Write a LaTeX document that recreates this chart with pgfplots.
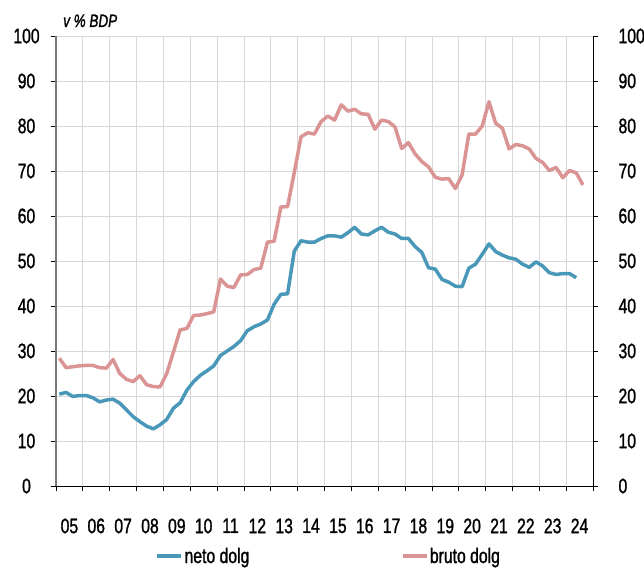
\documentclass[border=0pt]{standalone}
\usepackage{fontspec}
\setmainfont[FakeStretch=0.75, FakeBold=1.2]{Liberation Sans}
\usepackage{pgfplots}
\pgfplotsset{compat=1.18}
\definecolor{neto}{RGB}{74,152,185}
\definecolor{bruto}{RGB}{218,148,148}
\definecolor{gridc}{RGB}{215,215,215}
\definecolor{laxis}{RGB}{120,120,120}
\begin{document}
\begin{tikzpicture}
\useasboundingbox (-56bp,-85bp) rectangle (588bp,486bp);
\begin{axis}[name=ax, at={(0,0)}, anchor=south west, scale only axis,
 width=537bp, height=450bp,
 xmin=2005, xmax=2025, ymin=0, ymax=100,
 clip mode=individual,
 axis x line*=bottom, axis y line*=left,
 x axis line style={black, line width=0.8bp},
 y axis line style={laxis, line width=1.2bp},
 xtick={2005,2006,...,2025}, xticklabels={},
 extra x ticks={2005.5,2006.5,...,2024.5},
 extra x tick labels={05,06,07,08,09,10,11,12,13,14,15,16,17,18,19,20,21,22,23,24},
 extra x tick style={major tick length=0pt, grid=none, tick label style={yshift=-29bp}},
 ytick={0,10,...,100},
 yticklabel style={anchor=center, xshift=-24.5bp},
 tick align=outside, major tick length=5bp,
 grid=major, grid style={gridc, line width=0.8bp},
 tick style={black, line width=0.8bp},
 tick label style={font=\fontsize{21bp}{24bp}\selectfont},
 /pgf/number format/assume math mode=true,
 legend columns=2,
 legend style={draw=none, fill=none, at={(0.5,-0.128)}, anchor=north, xshift=4bp,
   font=\fontsize{21bp}{24bp}\selectfont,
   nodes={inner xsep=1.5bp},
   /tikz/every even column/.append style={column sep=150bp}},
 legend image code/.code={\draw[#1, line width=3.5bp] (0,0) -- (24bp,0);},
]
\addplot[neto, line width=3.5bp, line join=round] coordinates {
(2005.125,20.4)(2005.375,20.8)(2005.625,19.9)(2005.875,20.1)
(2006.125,20.1)(2006.375,19.6)(2006.625,18.7)(2006.875,19.1)
(2007.125,19.3)(2007.375,18.4)(2007.625,16.9)(2007.875,15.4)
(2008.125,14.3)(2008.375,13.3)(2008.625,12.7)(2008.875,13.6)
(2009.125,14.8)(2009.375,17.3)(2009.625,18.5)(2009.875,21.3)
(2010.125,23.2)(2010.375,24.6)(2010.625,25.6)(2010.875,26.7)
(2011.125,29.0)(2011.375,30.0)(2011.625,31.0)(2011.875,32.3)
(2012.125,34.5)(2012.375,35.4)(2012.625,36.0)(2012.875,36.9)
(2013.125,40.4)(2013.375,42.6)(2013.625,42.7)(2013.875,52.2)
(2014.125,54.5)(2014.375,54.2)(2014.625,54.2)(2014.875,55.0)
(2015.125,55.6)(2015.375,55.6)(2015.625,55.3)(2015.875,56.3)
(2016.125,57.5)(2016.375,56.0)(2016.625,55.8)(2016.875,56.7)
(2017.125,57.5)(2017.375,56.4)(2017.625,56.0)(2017.875,55.0)
(2018.125,55.0)(2018.375,53.2)(2018.625,51.9)(2018.875,48.5)
(2019.125,48.2)(2019.375,45.9)(2019.625,45.3)(2019.875,44.4)
(2020.125,44.3)(2020.375,48.4)(2020.625,49.3)(2020.875,51.5)
(2021.125,53.8)(2021.375,52.1)(2021.625,51.3)(2021.875,50.7)
(2022.125,50.4)(2022.375,49.3)(2022.625,48.6)(2022.875,49.8)
(2023.125,48.9)(2023.375,47.4)(2023.625,47.0)(2023.875,47.2)
(2024.125,47.2)(2024.375,46.3)
};
\addlegendentry{neto dolg}
\addplot[bruto, line width=3.5bp, line join=round] coordinates {
(2005.125,28.4)(2005.375,26.3)(2005.625,26.5)(2005.875,26.7)
(2006.125,26.8)(2006.375,26.8)(2006.625,26.3)(2006.875,26.2)
(2007.125,28.1)(2007.375,25.0)(2007.625,23.7)(2007.875,23.2)
(2008.125,24.5)(2008.375,22.5)(2008.625,22.1)(2008.875,22.0)
(2009.125,25.0)(2009.375,29.8)(2009.625,34.7)(2009.875,35.0)
(2010.125,37.9)(2010.375,38.0)(2010.625,38.3)(2010.875,38.7)
(2011.125,46.0)(2011.375,44.4)(2011.625,44.1)(2011.875,46.9)
(2012.125,47.0)(2012.375,48.1)(2012.625,48.4)(2012.875,54.2)
(2013.125,54.4)(2013.375,62.0)(2013.625,62.1)(2013.875,69.7)
(2014.125,77.6)(2014.375,78.5)(2014.625,78.2)(2014.875,81.0)
(2015.125,82.2)(2015.375,81.3)(2015.625,84.7)(2015.875,83.3)
(2016.125,83.7)(2016.375,82.7)(2016.625,82.6)(2016.875,79.3)
(2017.125,81.3)(2017.375,81.0)(2017.625,79.8)(2017.875,75.0)
(2018.125,76.3)(2018.375,73.8)(2018.625,72.1)(2018.875,70.9)
(2019.125,68.6)(2019.375,68.2)(2019.625,68.3)(2019.875,66.1)
(2020.125,69.1)(2020.375,78.2)(2020.625,78.2)(2020.875,80.0)
(2021.125,85.4)(2021.375,80.6)(2021.625,79.5)(2021.875,74.9)
(2022.125,75.9)(2022.375,75.6)(2022.625,74.9)(2022.875,72.8)
(2023.125,71.9)(2023.375,70.1)(2023.625,70.8)(2023.875,68.5)
(2024.125,70.1)(2024.375,69.6)(2024.625,66.9)
};
\addlegendentry{bruto dolg}
\node[anchor=base west, inner sep=0pt, font=\itshape\fontsize{18bp}{20bp}\selectfont] at (rel axis cs:0,1) [xshift=7bp, yshift=9bp] {v \% BDP};
\end{axis}
\begin{axis}[at={(0,0)}, anchor=south west, scale only axis,
 width=537bp, height=450bp,
 xmin=2005, xmax=2025, ymin=0, ymax=100,
 axis x line=none, axis y line*=right,
 y axis line style={black, line width=0.8bp},
 ytick={0,10,...,100},
 yticklabel style={anchor=west, xshift=17bp},
 tick align=outside, major tick length=5bp,
 tick style={black, line width=0.8bp},
 tick label style={font=\fontsize{21bp}{24bp}\selectfont},
 /pgf/number format/assume math mode=true,
]
\end{axis}
\end{tikzpicture}
\end{document}
